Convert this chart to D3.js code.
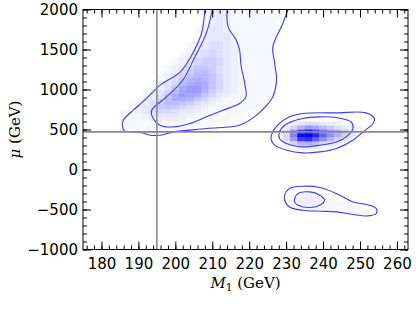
<!DOCTYPE html>
<html>
<head>
<meta charset="utf-8">
<script src="https://cdn.jsdelivr.net/npm/d3@7"></script>
<style>
  body { margin: 0; background: #fff; }
  svg { display: block; }
</style>
</head>
<body>
<div id="chart"></div>
<script>
// Page size
var svgWidth = 416;
var svgHeight = 312;

// Plot area margins
var margin = { top: 9.5, right: 8, bottom: 62.5, left: 83 };
var width = svgWidth - margin.left - margin.right;
var height = svgHeight - margin.top - margin.bottom;

// Axis ranges and ticks
var m1Domain = [175, 263];
var muDomain = [-1000, 2000];
var xTicks = [180, 190, 200, 210, 220, 230, 240, 250, 260];
var yTicks = [-1000, -500, 0, 500, 1000, 1500, 2000];
var yTickLabels = ["\u22121000", "\u2212500", "0", "500", "1000", "1500", "2000"];

// Reference lines
var refM1 = 195;
var refMu = 470;

// 2D histogram: bins of 2 GeV (M1) x 50 GeV (mu)
// each entry: lower mu edge, first M1 edge, levels (0..u = 0..30)
var binM1 = 2;
var binMu = 50;
var levelChars = "0123456789abcdefghijklmnopqrstu";
var heatRowMu = [1950, 1900, 1850, 1800, 1750, 1700, 1650, 1600, 1550, 1500,
  1450, 1400, 1350, 1300, 1250, 1200, 1150, 1100, 1050, 1000,
  950, 900, 850, 800, 750, 700, 650, 600, 550, 550,
  500, 500, 450, 450, 400, 350, 300, 250,
  -300, -350, -400, -450, -500, -550];
var heatRowStart = [207, 207, 207, 207, 205, 205, 205, 205, 203, 203,
  201, 201, 199, 199, 197, 197, 195, 195, 193, 193,
  191, 191, 189, 187, 187, 185, 185, 185, 185, 229,
  187, 229, 189, 229, 229, 229, 229, 231,
  235, 233, 231, 231, 235, 245];
var heatRowLevels = [
  "12321111111", "12321111111", "12321111111", "1232111111",
  "12332111111", "12332111111", "12333211111", "12333211111",
  "123443211111", "123443211111", "1234543211111", "1234543211111",
  "12356653211111", "12356653211111", "123577643211111", "124688643211111",
  "1235799753211111", "12479a9753211111", "12358aba753211111", "1247acca753211111",
  "12358bcc9643211111", "1247acba7532111111", "12358aa97532111111", "1124688764321111111",
  "123467654321111111", "112345543321111111", "11123333221111111", "111122222111111",
  "1111111111111", "1234432211",
  "111111111", "259ca864321", "1111", "4clqmgc9631",
  "5ftuqida631", "4cnpjd9531", "259a85321", "12221",
  "11", "121", "123211", "12221111", "11111111", "1111"
];

// Contour lines [M1, mu]
var contourUpperOuter = [[208.0, 2000], [207.1, 1704], [204.0, 1391], [201.3, 1216], [195.9, 1054],
  [191.7, 866], [188.6, 741], [185.9, 616], [185.7, 533], [186.3, 483], [190.5, 466],
  [193.2, 429], [195.9, 429], [199.5, 470], [208.5, 512], [217.5, 555], [222.0, 679],
  [225.0, 816], [226.4, 908], [227.4, 1116], [226.9, 1329], [226.4, 1533], [229.1, 1825], [230.5, 2000]];
var contourUpperInner = [[210.0, 2000], [208.4, 1704], [205.3, 1408], [202.0, 1116], [197.6, 908],
  [193.6, 741], [194.0, 637], [195.8, 554], [199.4, 532], [203.9, 575], [208.4, 658],
  [212.9, 741], [217.4, 825], [219.1, 908], [218.8, 1075], [217.8, 1295], [217.4, 1491],
  [216.5, 1616], [214.3, 1783], [214.0, 2000]];
var contourRightOuter = [[226.0, 366], [226.9, 304], [230.1, 241], [234.5, 208], [239.1, 220],
  [243.6, 263], [248.1, 366], [250.8, 470], [253.5, 575], [253.9, 638], [251.6, 708],
  [243.6, 708], [234.5, 700], [230.9, 658], [227.7, 554], [226.0, 429]];
var contourRightInner = [[228.2, 470], [230.0, 566], [234.5, 638], [239.1, 658], [243.6, 650],
  [247.6, 595], [248.1, 513], [246.3, 408], [243.6, 345], [239.1, 304], [234.5, 283],
  [230.1, 325], [228.2, 388]];
var contourLowOuter = [[229.6, -321], [230.9, -238], [234.5, -209], [239.1, -225], [243.6, -300],
  [248.1, -405], [252.6, -446], [254.4, -488], [254.4, -550], [252.1, -580], [248.1, -563],
  [243.6, -530], [239.1, -521], [234.5, -509], [230.9, -468], [229.6, -384]];
var contourLowInner = [[232.3, -363], [233.2, -300], [236.4, -280], [239.1, -321], [240.4, -384],
  [239.1, -446], [236.4, -475], [233.2, -446], [232.3, -405]];

var openContours = [contourUpperOuter, contourUpperInner];
var closedContours = [contourRightOuter, contourRightInner, contourLowOuter, contourLowInner];

var svg = d3.select("#chart")
  .append("svg")
  .attr("width", svgWidth)
  .attr("height", svgHeight);

var chartGroup = svg.append("g")
  .attr("transform", `translate(${margin.left}, ${margin.top})`);

var xScale = d3.scaleLinear().domain(m1Domain).range([0, width]);
var yScale = d3.scaleLinear().domain(muDomain).range([height, 0]);

svg.append("defs").append("clipPath")
  .attr("id", "plotClip")
  .append("rect")
  .attr("width", width)
  .attr("height", height);

var plot = chartGroup.append("g").attr("clip-path", "url(#plotClip)");

// Heatmap cells
var color = d3.interpolateRgb("#ffffff", "#0000ff");
var cells = [];
heatRowMu.forEach(function(mu, i) {
  heatRowLevels[i].split("").forEach(function(ch, j) {
    var lvl = levelChars.indexOf(ch);
    if (lvl > 0) cells.push({ m1: heatRowStart[i] + j * binM1, mu: mu, lvl: lvl });
  });
});

plot.selectAll("rect.cell")
  .data(cells)
  .enter()
  .append("rect")
  .attr("class", "cell")
  .attr("x", d => xScale(d.m1))
  .attr("y", d => yScale(d.mu + binMu))
  .attr("width", d => xScale(d.m1 + binM1) - xScale(d.m1) + 0.3)
  .attr("height", d => yScale(d.mu) - yScale(d.mu + binMu) + 0.3)
  .attr("fill", d => color(d.lvl / 30));

// Contours
var openLine = d3.line()
  .x(d => xScale(d[0]))
  .y(d => yScale(d[1]))
  .curve(d3.curveCatmullRom);
var closedLine = d3.line()
  .x(d => xScale(d[0]))
  .y(d => yScale(d[1]))
  .curve(d3.curveCatmullRomClosed);

plot.selectAll("path.open")
  .data(openContours)
  .enter()
  .append("path")
  .attr("d", openLine)
  .attr("fill", "none")
  .attr("stroke", "#3b3bff")
  .attr("stroke-width", 1.1);

plot.selectAll("path.closed")
  .data(closedContours)
  .enter()
  .append("path")
  .attr("d", closedLine)
  .attr("fill", "none")
  .attr("stroke", "#3b3bff")
  .attr("stroke-width", 1.1);

// Reference lines
plot.append("line")
  .attr("x1", xScale(refM1)).attr("x2", xScale(refM1))
  .attr("y1", 0).attr("y2", height)
  .attr("stroke", "#8a8a8a").attr("stroke-width", 1.6);
plot.append("line")
  .attr("x1", 0).attr("x2", width)
  .attr("y1", yScale(refMu)).attr("y2", yScale(refMu))
  .attr("stroke", "#8a8a8a").attr("stroke-width", 1.6);

// Axes, ticks pointing inwards on all four sides
var xMinor = d3.range(176, 263, 2);
var yMinor = d3.range(-1000, 2001, 100);
var fontFamily = "'DejaVu Sans', sans-serif";

function styleAxis(g) {
  g.selectAll("line").attr("stroke", "#000");
  g.selectAll("text").attr("font-family", fontFamily).attr("font-size", 15).attr("fill", "#000");
  g.select(".domain").remove();
}

chartGroup.append("g")
  .attr("transform", `translate(0, ${height})`)
  .call(d3.axisBottom(xScale).tickValues(xMinor).tickFormat("").tickSizeInner(-4).tickSizeOuter(0))
  .call(styleAxis);
chartGroup.append("g")
  .attr("transform", `translate(0, ${height})`)
  .call(d3.axisBottom(xScale).tickValues(xTicks).tickFormat(d3.format("d")).tickSizeInner(-8).tickSizeOuter(0).tickPadding(8.5))
  .call(styleAxis);
chartGroup.append("g")
  .call(d3.axisTop(xScale).tickValues(xMinor).tickFormat("").tickSizeInner(-4).tickSizeOuter(0))
  .call(styleAxis);
chartGroup.append("g")
  .call(d3.axisTop(xScale).tickValues(xTicks).tickFormat("").tickSizeInner(-8).tickSizeOuter(0))
  .call(styleAxis);

chartGroup.append("g")
  .call(d3.axisLeft(yScale).tickValues(yMinor).tickFormat("").tickSizeInner(-4).tickSizeOuter(0))
  .call(styleAxis);
chartGroup.append("g")
  .call(d3.axisLeft(yScale).tickValues(yTicks).tickFormat((d, i) => yTickLabels[i]).tickSizeInner(-8).tickSizeOuter(0).tickPadding(5))
  .call(styleAxis);
chartGroup.append("g")
  .attr("transform", `translate(${width}, 0)`)
  .call(d3.axisRight(yScale).tickValues(yMinor).tickFormat("").tickSizeInner(-4).tickSizeOuter(0))
  .call(styleAxis);
chartGroup.append("g")
  .attr("transform", `translate(${width}, 0)`)
  .call(d3.axisRight(yScale).tickValues(yTicks).tickFormat("").tickSizeInner(-8).tickSizeOuter(0))
  .call(styleAxis);

// Frame
chartGroup.append("rect")
  .attr("width", width)
  .attr("height", height)
  .attr("fill", "none")
  .attr("stroke", "#000")
  .attr("stroke-width", 1);

// Axis titles
var xTitle = svg.append("text")
  .attr("x", margin.left + width / 2)
  .attr("y", 288)
  .attr("text-anchor", "middle")
  .attr("font-family", "'DejaVu Serif', serif")
  .attr("font-size", 15);
xTitle.append("tspan").attr("font-style", "italic").text("M");
xTitle.append("tspan").attr("font-size", 10.5).attr("dy", 3).text("1");
xTitle.append("tspan").attr("dy", -3).text(" (GeV)");

svg.append("text")
  .attr("transform", `translate(20, ${margin.top + height / 2}) rotate(-90)`)
  .attr("text-anchor", "middle")
  .attr("font-family", "'DejaVu Serif', serif")
  .attr("font-size", 15)
  .html('<tspan font-style="italic">\u03bc</tspan> (GeV)');
</script>
</body>
</html>
